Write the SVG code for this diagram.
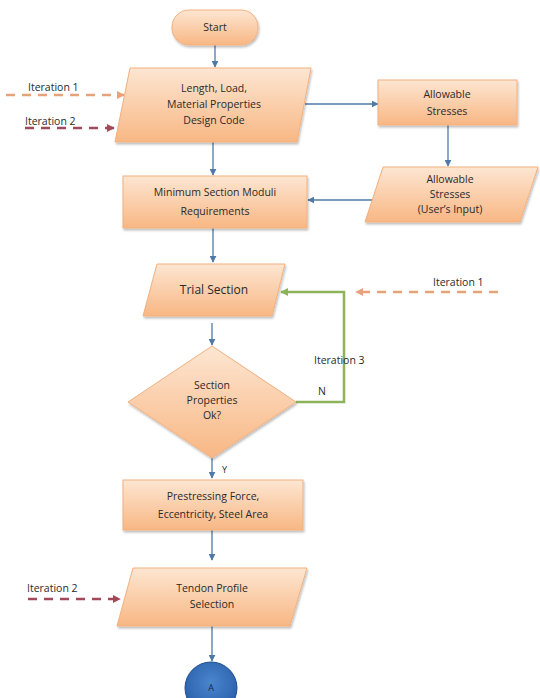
<svg xmlns="http://www.w3.org/2000/svg" width="540" height="698" viewBox="0 0 540 698">
<defs>
<linearGradient id="g" x1="0" y1="0" x2="0" y2="1">
<stop offset="0" stop-color="#fde6d2"/>
<stop offset="1" stop-color="#f8b784"/>
</linearGradient>
<radialGradient id="b" cx="0.5" cy="0.4" r="0.6">
<stop offset="0" stop-color="#4a86cf"/>
<stop offset="1" stop-color="#2a5fa8"/>
</radialGradient>
<marker id="ab" viewBox="0 0 10 10" refX="9" refY="5" markerWidth="7" markerHeight="7" orient="auto" markerUnits="userSpaceOnUse"><path d="M0,0L10,5L0,10z" fill="#4f7aa8"/></marker>
<marker id="ag" viewBox="0 0 10 10" refX="9" refY="5" markerWidth="8" markerHeight="8" orient="auto" markerUnits="userSpaceOnUse"><path d="M0,0L10,5L0,10z" fill="#8db35a"/></marker>
<marker id="ao" viewBox="0 0 10 10" refX="9" refY="5" markerWidth="8" markerHeight="8" orient="auto" markerUnits="userSpaceOnUse"><path d="M0,0L10,5L0,10z" fill="#e6a27a"/></marker>
<marker id="ar" viewBox="0 0 10 10" refX="9" refY="5" markerWidth="8" markerHeight="8" orient="auto" markerUnits="userSpaceOnUse"><path d="M0,0L10,5L0,10z" fill="#a0495a"/></marker>
<filter id="sh" x="-10%" y="-10%" width="120%" height="130%"><feDropShadow dx="1" dy="2" stdDeviation="1.2" flood-color="#000" flood-opacity="0.25"/></filter>
</defs>
<style>
.n{fill:url(#g);stroke:#f2b07e;stroke-width:1;filter:url(#sh)}
.t{font-family:"Open Sans","Liberation Sans",sans-serif;font-size:10.5px;fill:#2a2a2a;text-anchor:middle}
.l{font-family:"Open Sans","Liberation Sans",sans-serif;font-size:10.5px;fill:#2a2a2a}
.c{fill:none;stroke:#4f7aa8;stroke-width:1.3;marker-end:url(#ab)}
.it1{fill:none;stroke:#e6a27a;stroke-width:2.5;stroke-dasharray:9,7;marker-end:url(#ao)}
.it2{fill:none;stroke:#a0495a;stroke-width:2.5;stroke-dasharray:9,7;marker-end:url(#ar)}
.gr{fill:none;stroke:#8db35a;stroke-width:2.5;marker-end:url(#ag)}
</style>
<g id="connectors">
<path class="c" d="M215,45V67"/>
<path class="c" d="M305,104H378"/>
<path class="c" d="M448,125V166"/>
<path class="c" d="M378,200H308"/>
<path class="c" d="M213,142V175"/>
<path class="c" d="M213,228V262"/>
<path class="c" d="M212,323V345"/>
<path class="c" d="M212,458V478"/>
<path class="c" d="M212,530V560"/>
<path class="c" d="M212,626V661"/>
<path class="gr" d="M296,402H344V292H281"/>
<path class="it1" d="M498,292H356"/>
<path class="it1" d="M6,95H124"/>
<path class="it2" d="M25,128H114"/>
<path class="it2" d="M28,599H120"/>
</g>
<g id="start"><rect class="n" x="172" y="10" width="86" height="35" rx="17"/><text class="t" x="215" y="31">Start</text></g>
<g id="input1"><path class="n" d="M130,68H311L297,142H115Z"/><text class="t" x="214" y="92">Length, Load,</text><text class="t" x="214" y="108">Material Properties</text><text class="t" x="214" y="124">Design Code</text></g>
<g id="allow"><rect class="n" x="378" y="80" width="139" height="45"/><text class="t" x="447" y="98">Allowable</text><text class="t" x="447" y="115">Stresses</text></g>
<g id="allowinput"><path class="n" d="M383,167H538L520,222H365Z"/><text class="t" x="450" y="183">Allowable</text><text class="t" x="450" y="198">Stresses</text><text class="t" x="450" y="213">(User’s Input)</text></g>
<g id="minsec"><rect class="n" x="123" y="176" width="184" height="52"/><text class="t" x="215" y="196">Minimum Section Moduli</text><text class="t" x="215" y="215">Requirements</text></g>
<g id="trial"><path class="n" d="M157,264H285L272,316H143Z"/><text class="t" x="214" y="294" style="font-size:12px">Trial Section</text></g>
<g id="decision"><path class="n" d="M212,346L296,402L212,458L128,402Z"/><text class="t" x="212" y="389">Section</text><text class="t" x="212" y="404">Properties</text><text class="t" x="212" y="419">Ok?</text></g>
<g id="prestress"><rect class="n" x="123" y="480" width="180" height="50"/><text class="t" x="213" y="500">Prestressing Force,</text><text class="t" x="213" y="518">Eccentricity, Steel Area</text></g>
<g id="tendon"><path class="n" d="M133,568H307L290,626H117Z"/><text class="t" x="212" y="592">Tendon Profile</text><text class="t" x="212" y="608">Selection</text></g>
<g id="a"><ellipse cx="211" cy="688" rx="26" ry="26" fill="url(#b)" stroke="#1f4f8f" stroke-width="1"/><text class="t" x="211" y="691" style="font-size:9px;fill:#1a2a40">A</text></g>
<g id="labels">
<text class="l" x="28" y="91">Iteration 1</text>
<text class="l" x="25" y="125">Iteration 2</text>
<text class="l" x="433" y="286">Iteration 1</text>
<text class="l" x="314" y="364">Iteration 3</text>
<text class="l" x="318" y="395">N</text>
<text class="l" x="222" y="473" style="font-size:9px">Y</text>
<text class="l" x="27" y="592">Iteration 2</text>
</g>
</svg>
